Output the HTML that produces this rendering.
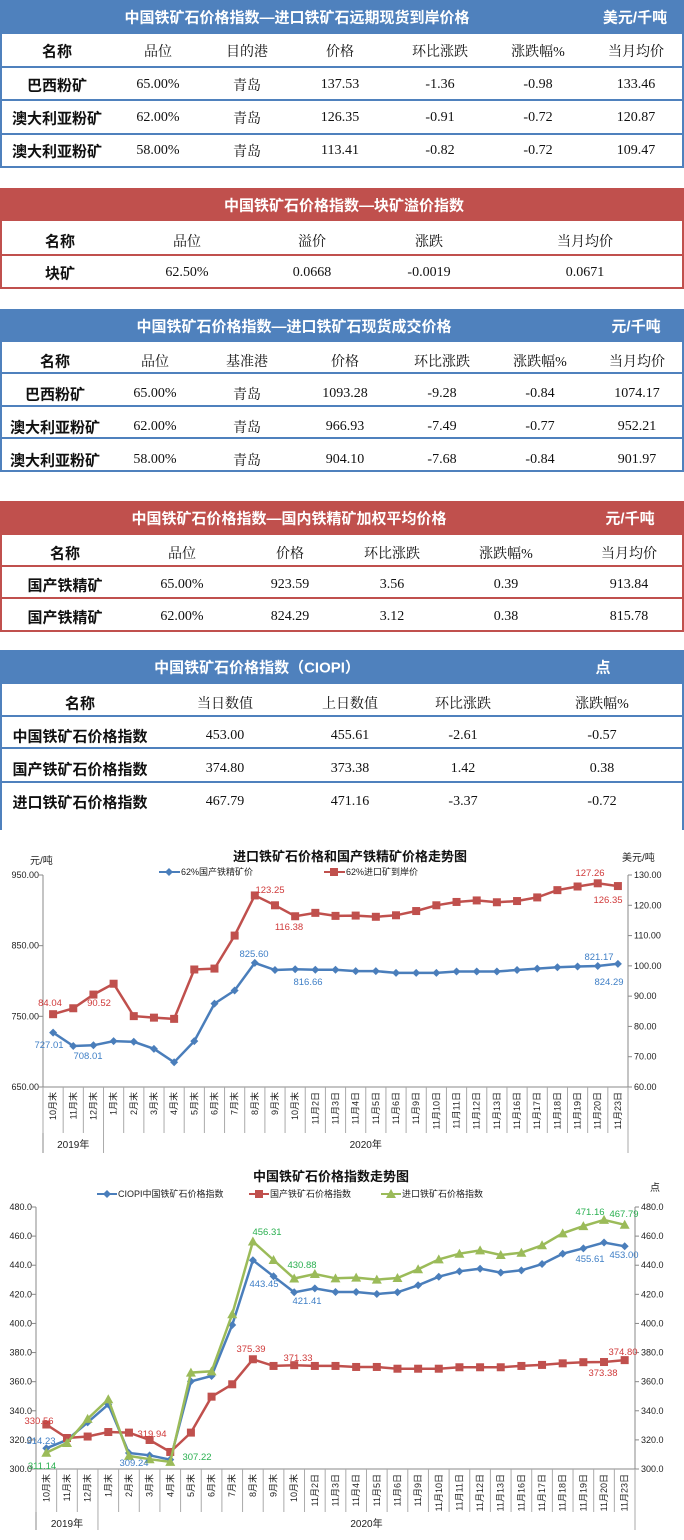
<!DOCTYPE html>
<html><head><meta charset="utf-8">
<style>
*{margin:0;padding:0;box-sizing:border-box}
body{width:684px;height:1540px;position:relative;background:#fff;font-family:"Liberation Serif","Noto Serif CJK SC",serif;overflow:hidden}
.hd{position:absolute;left:0;width:684px;color:#fff;font-family:"Liberation Sans","Noto Sans CJK SC",sans-serif;font-weight:bold;font-size:15px}
.hd span{position:absolute;top:50%;transform:translate(-50%,-50%);white-space:nowrap}
.tb{position:absolute;left:0;width:684px;border-left:2px solid;border-right:2px solid}
.ln{position:absolute;left:0;width:684px;height:2px}
.t{position:absolute;transform:translate(-50%,-50%);white-space:nowrap;font-size:14px;color:#111}
.b{font-family:"Liberation Sans","Noto Sans CJK SC",sans-serif;font-weight:bold;font-size:15px}
svg text{font-family:"Liberation Sans","Noto Sans CJK SC",sans-serif}
</style></head><body>
<div id="tables"></div>
<svg id="c1" width="684" height="320" style="position:absolute;left:0;top:840px"></svg>
<svg id="c2" width="684" height="380" style="position:absolute;left:0;top:1160px"></svg>
<script>
var T=document.getElementById('tables'),h='';
function hdr(y1,y2,col,title,tx,unit,ux){h+='<div class="hd" style="top:'+y1+'px;height:'+(y2-y1)+'px;background:'+col+'"><span style="left:'+tx+'px">'+title+'</span>'+(unit?'<span style="left:'+ux+'px">'+unit+'</span>':'')+'</div>';}
function box(y1,y2,col,lines,bottom){h+='<div class="tb" style="top:'+y1+'px;height:'+(y2-y1)+'px;border-color:'+col+'"></div>';lines.forEach(function(y){h+='<div class="ln" style="top:'+(y-1)+'px;background:'+col+'"></div>'});}
function row(y,xs,vals,boldFirst){vals.forEach(function(v,i){h+='<div class="t'+((i==0&&boldFirst)?' b':'')+'" style="left:'+xs[i]+'px;top:'+y+'px">'+v+'</div>'});}
var B='#4f81bd',R='#c0504d';
// table1
hdr(0,34,B,'中国铁矿石价格指数—进口铁矿石远期现货到岸价格',297,'美元/千吨',635);
box(34,167,B,[67,100,134,167]);
var x1=[57,158,247,340,440,538,636];
row(51,x1,['名称','品位','目的港','价格','环比涨跌','涨跌幅%','当月均价'],true);
row(85,x1,['巴西粉矿','65.00%','青岛','137.53','-1.36','-0.98','133.46'],true);
row(118,x1,['澳大利亚粉矿','62.00%','青岛','126.35','-0.91','-0.72','120.87'],true);
row(151,x1,['澳大利亚粉矿','58.00%','青岛','113.41','-0.82','-0.72','109.47'],true);
// table2
hdr(188,221,R,'中国铁矿石价格指数—块矿溢价指数',344,'',0);
box(221,288,R,[255,288]);
var x2=[60,187,312,429,585];
row(241,x2,['名称','品位','溢价','涨跌','当月均价'],true);
row(273,x2,['块矿','62.50%','0.0668','-0.0019','0.0671'],true);
// table3
hdr(309,342,B,'中国铁矿石价格指数—进口铁矿石现货成交价格',294,'元/千吨',636);
box(342,471,B,[373,406,438,471]);
var x3=[55,155,247,345,442,540,637];
row(361,x3,['名称','品位','基准港','价格','环比涨跌','涨跌幅%','当月均价'],true);
row(394,x3,['巴西粉矿','65.00%','青岛','1093.28','-9.28','-0.84','1074.17'],true);
row(427,x3,['澳大利亚粉矿','62.00%','青岛','966.93','-7.49','-0.77','952.21'],true);
row(460,x3,['澳大利亚粉矿','58.00%','青岛','904.10','-7.68','-0.84','901.97'],true);
// table4
hdr(501,535,R,'中国铁矿石价格指数—国内铁精矿加权平均价格',289,'元/千吨',630);
box(535,631,R,[566,598,631]);
var x4=[65,182,290,392,506,629];
row(553,x4,['名称','品位','价格','环比涨跌','涨跌幅%','当月均价'],true);
row(585,x4,['国产铁精矿','65.00%','923.59','3.56','0.39','913.84'],true);
row(617,x4,['国产铁精矿','62.00%','824.29','3.12','0.38','815.78'],true);
// table5
hdr(650,684,B,'中国铁矿石价格指数（CIOPI）',257,'点',603);
box(684,830,B,[716,748,782]);
var x5=[80,225,350,463,602];
row(703,x5,['名称','当日数值','上日数值','环比涨跌','涨跌幅%'],true);
row(736,x5,['中国铁矿石价格指数','453.00','455.61','-2.61','-0.57'],true);
row(769,x5,['国产铁矿石价格指数','374.80','373.38','1.42','0.38'],true);
row(802,x5,['进口铁矿石价格指数','467.79','471.16','-3.37','-0.72'],true);
T.innerHTML=h;

var cats=['10月末','11月末','12月末','1月末','2月末','3月末','4月末','5月末','6月末','7月末','8月末','9月末','10月末','11月2日','11月3日','11月4日','11月5日','11月6日','11月9日','11月10日','11月11日','11月12日','11月13日','11月16日','11月17日','11月18日','11月19日','11月20日','11月23日'];
function pl(pts){return pts.map(function(p){return p[0].toFixed(1)+','+p[1].toFixed(1)}).join(' ')}
function marker(t,x,y,c){
 if(t=='d')return '<polygon points="'+x+','+(y-4)+' '+(x+4)+','+y+' '+x+','+(y+4)+' '+(x-4)+','+y+'" fill="'+c+'"/>';
 if(t=='s')return '<rect x="'+(x-4)+'" y="'+(y-4)+'" width="8" height="8" fill="'+c+'"/>';
 return '<polygon points="'+x+','+(y-5)+' '+(x+5)+','+(y+4)+' '+(x-5)+','+(y+4)+'" fill="'+c+'"/>';
}
function chart(id,o){
 var s='',L=o.L,Rr=o.R,top=o.top,bot=o.bot,n=29,w=(Rr-L)/n;
 s+='<line x1="'+L+'" y1="'+top+'" x2="'+L+'" y2="'+o.yb+'" stroke="#888"/>';
 s+='<line x1="'+Rr+'" y1="'+top+'" x2="'+Rr+'" y2="'+bot+'" stroke="#888"/>';
 s+='<line x1="'+L+'" y1="'+bot+'" x2="'+Rr+'" y2="'+bot+'" stroke="#888"/>';
 o.lt.forEach(function(t){var y=top+(o.lmax-t)/(o.lmax-o.lmin)*(bot-top);s+='<line x1="'+(L-4)+'" y1="'+y+'" x2="'+L+'" y2="'+y+'" stroke="#888"/><text x="'+(L-4)+'" y="'+(y+3)+'" font-size="9" text-anchor="end" fill="#222">'+t.toFixed(o.dec)+'</text>'});
 o.rt.forEach(function(t){var y=top+(o.rmax-t)/(o.rmax-o.rmin)*(bot-top);s+='<line x1="'+Rr+'" y1="'+y+'" x2="'+(Rr+4)+'" y2="'+y+'" stroke="#888"/><text x="'+(Rr+6)+'" y="'+(y+3)+'" font-size="9" fill="#222">'+t.toFixed(o.dec)+'</text>'});
 for(var i=0;i<=n;i++){var x=L+i*w;s+='<line x1="'+x+'" y1="'+bot+'" x2="'+x+'" y2="'+(o.yc)+'" stroke="#aaa"/>';}
 s+='<line x1="'+(L+3*w)+'" y1="'+o.yc+'" x2="'+(L+3*w)+'" y2="'+o.yb+'" stroke="#aaa"/>';
 s+='<line x1="'+Rr+'" y1="'+o.yc+'" x2="'+Rr+'" y2="'+o.yb+'" stroke="#aaa"/>';
 cats.forEach(function(c,i){var x=L+(i+.5)*w+3,y=bot+5;s+='<text transform="translate('+x+','+y+') rotate(-90)" font-size="9" text-anchor="end" fill="#222">'+c+'</text>'});
 s+='<text x="'+(L+1.5*w)+'" y="'+o.yy+'" font-size="10" text-anchor="middle" fill="#222">2019年</text>';
 s+='<text x="'+(L+3*w+(Rr-L-3*w)/2)+'" y="'+o.yy+'" font-size="10" text-anchor="middle" fill="#222">2020年</text>';
 o.series.forEach(function(se){
  var pts=se.d.map(function(v,i){var mx=se.r?o.rmax:o.lmax,mn=se.r?o.rmin:o.lmin;return [L+(i+.5)*w,top+(mx-v)/(mx-mn)*(bot-top)]});
  s+='<polyline points="'+pl(pts)+'" fill="none" stroke="'+se.c+'" stroke-width="2.5"/>';
  pts.forEach(function(p){s+=marker(se.m,p[0],p[1],se.c)});
 });
 o.labels.forEach(function(l){s+='<text x="'+l[0]+'" y="'+l[1]+'" font-size="9.5" text-anchor="middle" fill="'+l[3]+'">'+l[2]+'</text>'});
 s+=o.extra;
 document.getElementById(id).innerHTML=s;
}
var bl='#3f7fc6',rd='#d03a3a',gr='#9bbb59';
chart('c1',{L:43,R:628,top:35,bot:247,yc:293,yb:313,yy:308,lmax:950,lmin:650,rmax:130,rmin:60,dec:2,
 lt:[950,850,750,650],rt:[130,120,110,100,90,80,70,60],
 series:[
 {c:'#4a7ebb',m:'d',d:[727.01,708.01,709,715,714,704,685,715,768,786.5,825.6,815.5,816.66,816,816,814,814,811.5,811.5,811.5,813.5,813.5,813.5,815.5,817.5,819.5,820.5,821.17,824.29]},
 {c:R,m:'s',r:1,d:[84.04,86,90.52,94.1,83.4,82.9,82.5,98.8,99.1,110,123.25,120,116.38,117.5,116.5,116.6,116.2,116.7,118.1,120,121.1,121.6,121,121.4,122.6,125,126.2,127.26,126.35]}],
 labels:[[50,166,'84.04',rd],[99,166,'90.52',rd],[270,53,'123.25',rd],[289,90,'116.38',rd],[590,36,'127.26',rd],[608,63,'126.35',rd],
 [49,208,'727.01',bl],[88,219,'708.01',bl],[254,117,'825.60',bl],[308,145,'816.66',bl],[599,120,'821.17',bl],[609,145,'824.29',bl]],
 extra:'<text x="350" y="21" font-size="13" font-weight="bold" text-anchor="middle" fill="#111">进口铁矿石价格和国产铁精矿价格走势图</text>'+
 '<text x="30" y="24" font-size="10" fill="#222">元/吨</text><text x="622" y="21" font-size="10" fill="#222">美元/吨</text>'+
 '<line x1="159" y1="32" x2="180" y2="32" stroke="#4a7ebb" stroke-width="2"/>'+marker('d',169,32,'#4a7ebb')+'<text x="181" y="35" font-size="9" fill="#222">62%国产铁精矿价</text>'+
 '<line x1="324" y1="32" x2="345" y2="32" stroke="'+R+'" stroke-width="2"/>'+marker('s',334,32,R)+'<text x="346" y="35" font-size="9" fill="#222">62%进口矿到岸价</text>'
});
chart('c2',{L:36,R:635,top:47,bot:309,yc:352,yb:370,yy:367,lmax:480,lmin:300,rmax:480,rmin:300,dec:1,
 lt:[480,460,440,420,400,380,360,340,320,300],rt:[480,460,440,420,400,380,360,340,320,300],
 series:[
 {c:'#4a7ebb',m:'d',d:[314.23,320,332,344.4,311,309.4,306.4,360.2,363.9,398.9,443.45,432.4,421.41,424.1,421.6,421.6,420.2,421.4,426.2,432.1,435.8,437.6,434.9,436.5,440.8,447.9,451.6,455.61,453]},
 {c:R,m:'s',d:[330.56,321.3,322.3,325.4,325,319.94,311.7,325,349.7,358.2,375.39,370.8,371.33,370.8,370.8,370.1,370.1,368.9,368.9,368.9,369.9,369.9,369.9,370.8,371.5,372.6,373.38,373.5,374.8]},
 {c:gr,m:'t',d:[311.14,317.9,334.4,347.9,309,306.7,304.9,366.2,367.1,406.3,456.31,443.6,430.88,434,431,431.5,430.1,431.2,437.2,444,447.9,450.2,447,448.6,453.7,461.9,466.9,471.16,467.79]}],
 labels:[[39,264,'330.56',rd],[41,284,'314.23',bl],[42,309,'311.14','#2ab050'],[134,306,'309.24',bl],[152,277,'319.94',rd],[197,300,'307.22','#2ab050'],
 [251,192,'375.39',rd],[298,201,'371.33',rd],[267,75,'456.31','#2ab050'],[264,127,'443.45',bl],[302,108,'430.88','#2ab050'],[307,144,'421.41',bl],
 [590,55,'471.16','#2ab050'],[624,57,'467.79','#2ab050'],[590,102,'455.61',bl],[624,98,'453.00',bl],[623,195,'374.80',rd],[603,216,'373.38',rd]],
 extra:'<text x="331" y="21" font-size="13" font-weight="bold" text-anchor="middle" fill="#111">中国铁矿石价格指数走势图</text>'+
 '<text x="650" y="31" font-size="10" fill="#222">点</text>'+
 '<line x1="97" y1="34" x2="117" y2="34" stroke="#4a7ebb" stroke-width="2"/>'+marker('d',107,34,'#4a7ebb')+'<text x="118" y="37" font-size="9" fill="#222">CIOPI中国铁矿石价格指数</text>'+
 '<line x1="249" y1="34" x2="269" y2="34" stroke="'+R+'" stroke-width="2"/>'+marker('s',259,34,R)+'<text x="270" y="37" font-size="9" fill="#222">国产铁矿石价格指数</text>'+
 '<line x1="381" y1="34" x2="401" y2="34" stroke="'+gr+'" stroke-width="2"/>'+marker('t',391,34,gr)+'<text x="402" y="37" font-size="9" fill="#222">进口铁矿石价格指数</text>'
});
</script>
</body></html>
